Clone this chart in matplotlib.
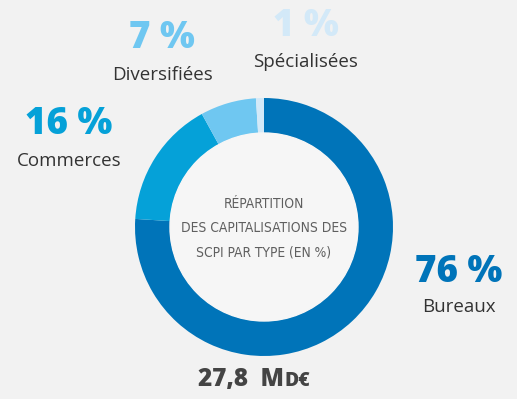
# donut chart: repartition des capitalisations des SCPI par type
import matplotlib.pyplot as plt
from matplotlib import font_manager
from matplotlib.patches import Circle

W, H = 517, 399

types = ["Bureaux", "Commerces", "Diversifiées", "Spécialisées"]
shares = [76, 16, 7, 1]
colors = ["#0074b9", "#05a1d8", "#6fc7f1", "#d3e9f8"]
total_label = "27,8"
center_lines = ["RÉPARTITION", "DES CAPITALISATIONS DES", "SCPI PAR TYPE (EN %)"]

BG = "#f2f2f2"
DARK = "#333333"


def is_regular(f):
    w = f.weight
    if isinstance(w, str):
        return w in ("normal", "regular", "book", "light", "ultralight")
    return w <= 400


# a condensed, non-bold face for the centre title, if one is installed
narrow = [f for f in font_manager.fontManager.ttflist
          if is_regular(f) and f.style == "normal"
          and (f.stretch in ("condensed", "semi-condensed", "extra-condensed")
               or "Condensed" in f.name or "Narrow" in f.name)]
if narrow:
    fp = font_manager.FontProperties(fname=narrow[0].fname, size=12)
else:
    fp = font_manager.FontProperties(family="Roboto", weight="light", size=12)

fig = plt.figure(figsize=(W / 100, H / 100), dpi=100, facecolor=BG)
ax = fig.add_axes([0, 0, 1, 1])


def y(px):
    # pixel row (from top) -> data y
    return H - px


cx, cy, r_out, r_in = 264, y(227), 129, 94

ax.pie(shares, colors=colors, startangle=90, counterclock=False,
       radius=r_out, center=(cx, cy), frame=True,
       wedgeprops=dict(width=r_out - r_in, linewidth=0))
ax.add_patch(Circle((cx, cy), r_in, color="#f6f6f6", zorder=3))
ax.set_xlim(0, W)
ax.set_ylim(0, H)
ax.set_aspect("equal")
ax.axis("off")

# labels: (x, y of percent, y of name)
label_pos = {
    "Bureaux": (459, 272, 307),
    "Commerces": (69, 125, 161),
    "Diversifiées": (162, 39, 75),
    "Spécialisées": (306, 27, 62),
}
for name, share, col in zip(types, shares, colors):
    lx, py, ny = label_pos[name]
    ax.text(lx, y(py), f"{share} %", ha="center", va="center", color=col,
            fontsize=26.5, fontweight="heavy", family="Open Sans")
    ax.text(lx, y(ny), name, ha="center", va="center", color=DARK,
            fontsize=13.5, family="Open Sans")

center_texts = []
for i, line in enumerate(center_lines):
    t = ax.text(cx, y(204 + 24.5 * i), line, ha="center", va="center",
                color="#5f5f5f", fontproperties=fp.copy())
    center_texts.append(t)

# fit the widest title line to roughly the original width
renderer = fig.canvas.get_renderer()
widest = max(t.get_window_extent(renderer).width for t in center_texts)
for t in center_texts:
    t.set_fontsize(12 * 166 / widest)

# total below the donut, "MD" in small caps
ax.text(284, y(386), total_label + "  M", ha="right", va="baseline", color="#444444",
        fontsize=17.5, fontweight="heavy", family="Open Sans")
ax.text(284, y(386), "D€", ha="left", va="baseline", color="#444444",
        fontsize=14, fontweight="heavy", family=["Open Sans", "DejaVu Sans"])

fig.savefig("out.png", dpi=100, facecolor=BG)
